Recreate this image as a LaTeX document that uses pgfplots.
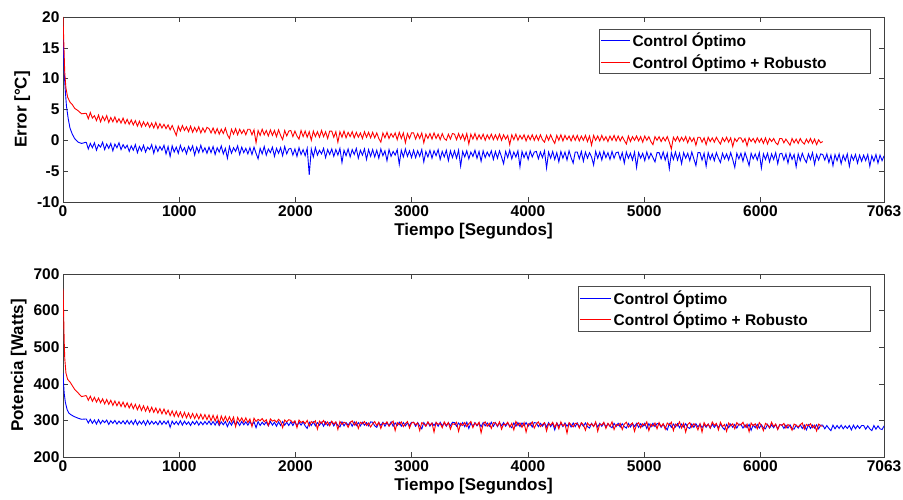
\documentclass[border=0pt]{standalone}
\usepackage{pgfplots}
\pgfplotsset{compat=1.18}
\usepackage{fontspec}
\setmainfont{Liberation Sans}

\begin{document}
\begin{tikzpicture}
\path[use as bounding box] (0,0) rectangle (903pt,-500pt);
\pgfplotsset{
  mystyle/.style={
    scale only axis, width=821pt, xmin=0, xmax=7063,
    xtick={0,1000,2000,3000,4000,5000,6000,7063},
    xticklabels={0,1000,2000,3000,4000,5000,6000,7063},
    tick label style={font=\fontsize{15.5}{17}\selectfont\bfseries},
    label style={font=\fontsize{17}{19}\selectfont\bfseries},
    xlabel={Tiempo [Segundos]},
    tick align=inside, major tick length=5pt,
    axis line style={black!75},
    every tick/.style={black!75, line width=0.5pt},
    legend style={font=\fontsize{15.5}{17}\selectfont\bfseries, draw=black!70, anchor=north east, inner sep=2pt, row sep=2pt},
    legend cell align=left,
    xlabel style={yshift=0pt},
  }
}

% ---------------- TOP -----------------
\begin{axis}[mystyle, at={(63pt,-17pt)}, anchor=north west, height=185pt,
  ymin=-10, ymax=20, ytick={-10,-5,0,5,10,15,20},
  yticklabels={-10,-5,0,5,10,15,20},
  ylabel={Error [°C]},
  legend style={at={(0.984,0.935)}},
  legend image code/.code={\draw[#1] (0pt,0pt) -- (29pt,0pt);}]
\addlegendimage{blue, line width=0.7pt}
\addlegendentry{Control Óptimo}
\addlegendimage{red, line width=0.7pt}
\addlegendentry{Control Óptimo + Robusto\hspace{40pt}\mbox{}}
\addplot[blue, line width=0.9pt, forget plot] table[row sep=\\, x expr=200+\coordindex*17.6, y=y] {y\\
-0.3\\ -1.4\\ -0.5\\ -1.2\\ -0.4\\ -1.6\\ -0.7\\ -1.1\\ -0.3\\ -1.5\\ -0.6\\ -1.3\\ -0.5\\ -1.7\\ -0.6\\ -1.2\\ -0.4\\ -1.5\\ -0.7\\ -1.3\\
-0.8\\ -1.8\\ -0.9\\ -1.6\\ -0.7\\ -2.0\\ -1.0\\ -1.7\\ -0.8\\ -1.9\\ -1.1\\ -1.5\\ -0.7\\ -2.1\\ -0.9\\ -1.8\\ -1.0\\ -1.6\\ -0.8\\ -2.2\\
-1.0\\ -2.6\\ -0.9\\ -1.9\\ -1.1\\ -2.1\\ -0.8\\ -1.8\\ -1.2\\ -2.2\\ -1.0\\ -1.7\\ -0.9\\ -2.4\\ -1.1\\ -2.0\\ -0.8\\ -1.9\\ -1.2\\ -2.1\\
-1.1\\ -2.0\\ -1.0\\ -2.3\\ -1.2\\ -1.9\\ -0.9\\ -2.2\\ -1.3\\ -2.9\\ -1.0\\ -2.1\\ -1.2\\ -1.8\\ -0.9\\ -2.3\\ -1.1\\ -2.0\\ -1.3\\ -2.2\\
-1.2\\ -2.3\\ -1.1\\ -2.1\\ -3.0\\ -1.3\\ -2.2\\ -1.0\\ -2.4\\ -1.4\\ -2.0\\ -1.1\\ -2.6\\ -1.3\\ -2.1\\ -1.2\\ -2.5\\ -1.0\\ -2.2\\ -1.4\\
-1.3\\ -2.4\\ -1.4\\ -2.6\\ -1.2\\ -2.3\\ -1.5\\ -2.5\\ -1.3\\ -5.6\\ -1.4\\ -2.7\\ -1.2\\ -2.4\\ -1.6\\ -2.2\\ -1.3\\ -2.8\\ -1.5\\ -2.3\\
-1.4\\ -2.6\\ -1.5\\ -2.4\\ -1.3\\ -3.6\\ -1.6\\ -2.5\\ -1.4\\ -2.7\\ -1.5\\ -2.3\\ -1.3\\ -2.9\\ -1.6\\ -2.4\\ -1.4\\ -3.1\\ -1.5\\ -2.6\\
-1.5\\ -2.7\\ -1.6\\ -2.9\\ -1.4\\ -2.5\\ -1.7\\ -3.3\\ -1.5\\ -2.6\\ -1.8\\ -2.4\\ -1.5\\ -3.9\\ -1.6\\ -2.7\\ -1.4\\ -2.6\\ -1.7\\ -2.8\\
-1.6\\ -2.8\\ -1.7\\ -2.6\\ -1.5\\ -3.5\\ -1.8\\ -2.7\\ -1.6\\ -2.9\\ -1.7\\ -2.5\\ -1.5\\ -3.1\\ -1.8\\ -2.7\\ -1.6\\ -3.3\\ -1.7\\ -2.8\\
-1.7\\ -2.9\\ -1.6\\ -4.2\\ -1.8\\ -2.7\\ -1.7\\ -3.0\\ -1.9\\ -2.6\\ -1.6\\ -2.9\\ -1.8\\ -3.4\\ -1.7\\ -2.8\\ -1.9\\ -2.6\\ -1.7\\ -3.1\\
-1.8\\ -2.9\\ -1.7\\ -2.7\\ -3.8\\ -1.8\\ -2.8\\ -1.6\\ -3.0\\ -1.9\\ -2.7\\ -1.7\\ -4.3\\ -1.8\\ -2.8\\ -1.9\\ -3.1\\ -1.7\\ -2.7\\ -1.9\\
-1.8\\ -3.0\\ -1.9\\ -2.8\\ -1.7\\ -4.5\\ -1.9\\ -2.9\\ -1.8\\ -3.1\\ -2.0\\ -3.5\\ -1.8\\ -2.9\\ -1.9\\ -3.2\\ -1.7\\ -2.8\\ -3.7\\ -1.9\\
-1.9\\ -3.0\\ -1.8\\ -3.4\\ -1.9\\ -2.9\\ -2.0\\ -2.7\\ -4.0\\ -1.8\\ -2.9\\ -1.9\\ -3.2\\ -1.8\\ -2.8\\ -2.0\\ -3.1\\ -1.8\\ -2.9\\ -2.0\\
-1.9\\ -3.1\\ -2.0\\ -3.7\\ -1.9\\ -2.9\\ -2.1\\ -3.2\\ -1.9\\ -4.4\\ -2.0\\ -2.9\\ -2.1\\ -3.3\\ -1.9\\ -3.0\\ -2.1\\ -2.8\\ -3.5\\ -2.0\\
-2.0\\ -3.0\\ -1.9\\ -3.2\\ -2.1\\ -4.6\\ -2.0\\ -3.1\\ -1.9\\ -3.2\\ -2.1\\ -3.8\\ -2.0\\ -2.9\\ -2.1\\ -3.3\\ -1.9\\ -3.0\\ -4.1\\ -2.0\\
-2.0\\ -3.2\\ -2.1\\ -4.2\\ -2.0\\ -3.1\\ -2.2\\ -3.3\\ -2.0\\ -2.9\\ -3.6\\ -2.1\\ -3.0\\ -2.2\\ -3.2\\ -2.0\\ -3.1\\ -4.4\\ -2.1\\ -3.0\\
-2.1\\ -3.4\\ -2.0\\ -3.0\\ -4.1\\ -2.1\\ -3.0\\ -2.2\\ -3.2\\ -2.0\\ -4.5\\ -2.2\\ -3.1\\ -2.1\\ -3.5\\ -2.2\\ -3.1\\ -2.0\\ -3.8\\ -2.2\\
-2.1\\ -3.2\\ -2.2\\ -3.7\\ -2.1\\ -3.1\\ -2.3\\ -4.3\\ -2.2\\ -3.3\\ -2.1\\ -3.0\\ -3.6\\ -2.2\\ -3.1\\ -2.0\\ -3.9\\ -2.3\\ -3.2\\ -2.2\\
-2.3\\ -3.2\\ -2.2\\ -3.6\\ -2.4\\ -4.1\\ -2.3\\ -3.3\\ -2.2\\ -3.8\\ -2.4\\ -3.3\\ -2.2\\ -4.2\\ -2.4\\ -3.2\\ -2.3\\ -3.7\\ -2.4\\ -3.4\\
-2.4\\ -3.3\\ -2.3\\ -4.2\\ -2.5\\ -3.4\\ -2.3\\ -3.7\\ -2.4\\ -3.3\\ -2.5\\
};
\addplot[blue, line width=0.9pt, forget plot] coordinates {
(0,17) (5,14) (10,11) (20,8) (30,5.5) (45,3.5) (60,2) (80,1) (100,0.3) (130,-0.3) (160,-0.5) (200,-0.3)};
\addplot[red, line width=0.9pt, forget plot] table[row sep=\\, x expr=200+\coordindex*17.6, y=y] {y\\
4.4\\ 3.5\\ 4.5\\ 3.6\\ 4.0\\ 3.2\\ 4.1\\ 3.0\\ 3.9\\ 3.2\\ 4.0\\ 2.9\\ 3.7\\ 3.0\\ 3.8\\ 2.9\\ 3.5\\ 2.8\\ 3.6\\ 2.7\\
3.4\\ 2.6\\ 3.3\\ 2.5\\ 3.2\\ 2.3\\ 3.1\\ 2.2\\ 3.0\\ 2.3\\ 2.9\\ 2.1\\ 2.8\\ 2.0\\ 2.9\\ 1.9\\ 2.7\\ 2.0\\ 2.6\\ 1.9\\
2.5\\ 1.7\\ 2.4\\ 1.6\\ 0.8\\ 2.3\\ 1.5\\ 2.4\\ 1.6\\ 2.2\\ 1.4\\ 2.3\\ 1.3\\ 2.1\\ 1.4\\ 2.2\\ 1.2\\ 2.0\\ 1.3\\ 2.1\\
1.9\\ 1.2\\ 2.0\\ 1.1\\ 1.9\\ 1.0\\ 1.8\\ 1.1\\ 2.0\\ 0.9\\ 0.3\\ 1.8\\ 1.0\\ 1.9\\ 0.9\\ 1.8\\ 1.1\\ 1.7\\ 0.9\\ 1.8\\
1.8\\ 0.9\\ 1.7\\ -0.4\\ 1.6\\ 0.8\\ 1.8\\ 0.9\\ 1.6\\ 0.7\\ 1.7\\ 0.8\\ 1.6\\ 0.6\\ 1.7\\ 0.8\\ 0.1\\ 1.6\\ 0.7\\ 1.5\\
1.6\\ 0.6\\ 1.5\\ 0.7\\ 0.2\\ 1.6\\ 0.6\\ 1.5\\ 0.5\\ 1.4\\ 0.0\\ 1.5\\ 0.6\\ 1.4\\ 0.5\\ 1.6\\ 0.6\\ 1.4\\ 0.3\\ 1.5\\
1.5\\ 0.5\\ 1.4\\ -0.3\\ 1.4\\ 0.5\\ 1.5\\ 0.4\\ 1.3\\ 0.6\\ 1.4\\ 0.4\\ 1.3\\ 0.5\\ 1.2\\ 0.3\\ 1.4\\ 0.5\\ 1.3\\ 0.4\\
1.3\\ 0.4\\ 1.2\\ 0.3\\ -0.3\\ 1.2\\ 0.4\\ 1.3\\ 0.3\\ 1.1\\ 0.5\\ 1.2\\ 0.1\\ 1.3\\ 0.3\\ 1.2\\ -0.4\\ 1.1\\ 0.3\\ 1.2\\
1.2\\ 0.2\\ 1.1\\ 0.3\\ 1.2\\ -0.4\\ 1.0\\ 0.3\\ 1.1\\ 0.2\\ 1.2\\ 0.3\\ 1.0\\ 0.1\\ 1.1\\ 0.3\\ 0.0\\ 1.0\\ 0.2\\ 1.1\\
1.0\\ 0.1\\ 1.1\\ 0.2\\ 1.0\\ 0.0\\ 1.1\\ -0.6\\ 1.0\\ 0.2\\ 1.1\\ 0.1\\ 0.9\\ 0.2\\ 1.0\\ 0.0\\ 0.9\\ 0.2\\ 1.0\\ 0.1\\
0.9\\ 0.1\\ 1.0\\ 0.0\\ 0.9\\ 0.2\\ 0.8\\ -0.7\\ 0.9\\ 0.1\\ 1.0\\ 0.0\\ 0.8\\ 0.2\\ 0.9\\ -0.1\\ 0.8\\ 0.1\\ 0.9\\ 0.0\\
0.8\\ 0.0\\ 0.9\\ 0.1\\ -0.3\\ 0.8\\ 0.0\\ 0.9\\ 0.1\\ -0.5\\ 0.8\\ 0.0\\ 0.9\\ -0.1\\ 0.8\\ 0.1\\ 0.7\\ -0.1\\ 0.8\\ 0.0\\
0.8\\ -0.1\\ 0.7\\ 0.0\\ 0.8\\ -0.2\\ 0.7\\ -0.8\\ 0.8\\ 0.0\\ 0.7\\ -0.1\\ 0.8\\ 0.0\\ 0.6\\ -0.2\\ 0.7\\ 0.0\\ 0.8\\ -0.1\\
0.7\\ -0.1\\ 0.6\\ 0.0\\ -0.6\\ 0.7\\ -0.2\\ 0.6\\ 0.0\\ 0.7\\ -0.1\\ 0.6\\ -0.3\\ 0.7\\ 0.0\\ 0.6\\ -0.2\\ -0.7\\ 0.6\\ 0.0\\
0.6\\ -0.2\\ 0.5\\ -0.1\\ 0.6\\ -0.3\\ -1.4\\ 0.5\\ -0.1\\ 0.6\\ -0.2\\ 0.5\\ -0.1\\ 0.6\\ -0.4\\ 0.5\\ -0.2\\ 0.4\\ -0.8\\ 0.5\\
0.5\\ -0.3\\ 0.4\\ -0.7\\ 0.5\\ -0.2\\ 0.4\\ -0.3\\ 0.5\\ -0.1\\ -0.6\\ 0.4\\ -0.2\\ 0.5\\ -0.3\\ 0.4\\ -1.0\\ 0.3\\ -0.2\\ 0.4\\
0.4\\ -0.3\\ 0.3\\ -0.9\\ 0.4\\ -0.2\\ 0.3\\ -0.4\\ 0.4\\ -0.3\\ 0.3\\ -0.5\\ 0.4\\ -0.6\\ 0.3\\ -0.2\\ 0.3\\ -0.4\\ -0.7\\ 0.3\\
0.3\\ -0.4\\ 0.2\\ -0.3\\ -0.8\\ 0.3\\ -0.4\\ 0.2\\ -0.5\\ 0.3\\ -0.3\\ -0.6\\ 0.2\\ -0.4\\ 0.3\\ -0.5\\ 0.2\\ -0.7\\ 0.1\\ -0.4\\
-0.2\\
};
\addplot[red, line width=0.9pt, forget plot] coordinates {
(0,20) (5,17) (10,14) (15,11) (25,8.5) (40,7) (60,6.2) (80,5.8) (100,5.2) (130,4.8) (160,4.3) (200,4.4)};
\end{axis}

% ---------------- BOTTOM -----------------
\begin{axis}[mystyle, at={(63pt,-274pt)}, anchor=north west, height=183pt,
  ymin=200, ymax=700, ytick={200,300,400,500,600,700},
  yticklabels={200,300,400,500,600,700},
  ylabel={Potencia [Watts]},
  legend style={at={(0.983,0.934)}},
  legend image code/.code={\draw[#1] (0pt,0pt) -- (31pt,0pt);}]
\addlegendimage{blue, line width=0.7pt}
\addlegendentry{Control Óptimo}
\addlegendimage{red, line width=0.7pt}
\addlegendentry{Control Óptimo + Robusto\hspace{58pt}\mbox{}}
\addplot[blue, line width=0.9pt, forget plot] table[row sep=\\, x expr=200+\coordindex*17.6, y=y] {y\\
304\\ 293\\ 303\\ 292\\ 301\\ 290\\ 302\\ 291\\ 300\\ 294\\ 301\\ 289\\ 299\\ 292\\ 300\\ 290\\ 298\\ 291\\ 299\\ 290\\
300\\ 290\\ 299\\ 289\\ 301\\ 288\\ 298\\ 290\\ 299\\ 287\\ 300\\ 289\\ 298\\ 290\\ 297\\ 288\\ 299\\ 289\\ 298\\ 290\\
299\\ 281\\ 298\\ 289\\ 297\\ 288\\ 299\\ 287\\ 298\\ 289\\ 296\\ 286\\ 297\\ 289\\ 298\\ 287\\ 296\\ 288\\ 297\\ 289\\
298\\ 288\\ 297\\ 287\\ 298\\ 286\\ 296\\ 288\\ 297\\ 283\\ 296\\ 287\\ 298\\ 288\\ 296\\ 286\\ 297\\ 288\\ 296\\ 287\\
297\\ 287\\ 296\\ 280\\ 297\\ 286\\ 295\\ 288\\ 296\\ 285\\ 297\\ 287\\ 295\\ 284\\ 296\\ 286\\ 297\\ 287\\ 295\\ 286\\
296\\ 286\\ 297\\ 285\\ 295\\ 287\\ 296\\ 285\\ 278\\ 295\\ 286\\ 296\\ 285\\ 294\\ 287\\ 295\\ 284\\ 296\\ 286\\ 294\\
296\\ 285\\ 295\\ 286\\ 282\\ 296\\ 285\\ 294\\ 287\\ 295\\ 284\\ 296\\ 286\\ 294\\ 285\\ 295\\ 287\\ 294\\ 285\\ 296\\
295\\ 285\\ 281\\ 294\\ 286\\ 295\\ 284\\ 294\\ 285\\ 296\\ 284\\ 293\\ 286\\ 295\\ 284\\ 294\\ 285\\ 293\\ 286\\ 295\\
295\\ 284\\ 294\\ 285\\ 277\\ 294\\ 285\\ 295\\ 284\\ 293\\ 286\\ 294\\ 284\\ 295\\ 285\\ 293\\ 284\\ 294\\ 285\\ 295\\
294\\ 284\\ 293\\ 285\\ 294\\ 283\\ 295\\ 278\\ 293\\ 284\\ 294\\ 285\\ 293\\ 283\\ 294\\ 285\\ 293\\ 284\\ 295\\ 284\\
294\\ 283\\ 293\\ 285\\ 294\\ 284\\ 293\\ 285\\ 280\\ 293\\ 284\\ 294\\ 283\\ 293\\ 285\\ 294\\ 284\\ 293\\ 282\\ 294\\
293\\ 283\\ 292\\ 284\\ 293\\ 282\\ 294\\ 283\\ 292\\ 274\\ 293\\ 284\\ 292\\ 283\\ 293\\ 284\\ 292\\ 282\\ 293\\ 283\\
293\\ 282\\ 292\\ 284\\ 293\\ 283\\ 279\\ 292\\ 284\\ 293\\ 282\\ 292\\ 284\\ 293\\ 282\\ 291\\ 284\\ 280\\ 292\\ 283\\
292\\ 282\\ 291\\ 283\\ 279\\ 292\\ 282\\ 291\\ 283\\ 292\\ 281\\ 291\\ 283\\ 292\\ 278\\ 291\\ 282\\ 292\\ 283\\ 291\\
291\\ 281\\ 290\\ 282\\ 274\\ 291\\ 281\\ 290\\ 282\\ 291\\ 280\\ 290\\ 282\\ 291\\ 281\\ 278\\ 290\\ 281\\ 291\\ 282\\
290\\ 280\\ 289\\ 281\\ 290\\ 279\\ 290\\ 281\\ 289\\ 280\\ 290\\ 281\\ 275\\ 289\\ 280\\ 290\\ 281\\ 289\\ 279\\ 290\\
289\\ 279\\ 288\\ 280\\ 289\\ 273\\ 288\\ 280\\ 289\\ 279\\ 288\\ 280\\ 277\\ 289\\ 279\\ 288\\ 280\\ 289\\ 276\\ 288\\
288\\ 278\\ 287\\ 279\\ 288\\ 278\\ 276\\ 287\\ 279\\ 288\\ 278\\ 287\\ 274\\ 288\\ 278\\ 287\\ 279\\ 288\\ 277\\ 287\\
287\\ 277\\ 286\\ 278\\ 272\\ 287\\ 277\\ 286\\ 278\\ 287\\ 277\\ 285\\ 278\\ 286\\ 274\\ 287\\ 277\\ 286\\ 278\\ 286\\
286\\ 276\\ 285\\ 277\\ 272\\ 286\\ 276\\ 285\\ 277\\ 275\\ 285\\
};
\addplot[blue, line width=0.9pt, forget plot] coordinates {
(0,430) (5,400) (10,375) (20,350) (35,330) (50,320) (70,315) (100,310) (130,306) (160,303) (200,304)};
\addplot[red, line width=0.9pt, forget plot] table[row sep=\\, x expr=200+\coordindex*17.6, y=y] {y\\
368\\ 355\\ 366\\ 352\\ 363\\ 350\\ 361\\ 348\\ 359\\ 345\\ 357\\ 344\\ 355\\ 341\\ 353\\ 340\\ 351\\ 338\\ 350\\ 336\\
348\\ 334\\ 346\\ 332\\ 344\\ 329\\ 342\\ 327\\ 340\\ 325\\ 338\\ 323\\ 336\\ 322\\ 334\\ 320\\ 332\\ 318\\ 331\\ 317\\
328\\ 313\\ 326\\ 311\\ 325\\ 310\\ 323\\ 308\\ 322\\ 307\\ 320\\ 306\\ 319\\ 305\\ 318\\ 304\\ 317\\ 303\\ 316\\ 302\\
315\\ 299\\ 314\\ 298\\ 313\\ 290\\ 312\\ 298\\ 311\\ 297\\ 310\\ 296\\ 309\\ 283\\ 308\\ 297\\ 307\\ 295\\ 307\\ 294\\
304\\ 283\\ 306\\ 297\\ 303\\ 299\\ 305\\ 296\\ 302\\ 286\\ 304\\ 298\\ 301\\ 295\\ 303\\ 297\\ 280\\ 301\\ 296\\ 302\\
300\\ 293\\ 299\\ 280\\ 301\\ 294\\ 298\\ 291\\ 300\\ 284\\ 297\\ 293\\ 299\\ 276\\ 298\\ 292\\ 300\\ 289\\ 296\\ 285\\
298\\ 290\\ 296\\ 275\\ 297\\ 289\\ 295\\ 292\\ 281\\ 294\\ 299\\ 287\\ 296\\ 278\\ 295\\ 291\\ 297\\ 286\\ 293\\ 282\\
291\\ 297\\ 286\\ 295\\ 278\\ 293\\ 290\\ 296\\ 284\\ 292\\ 298\\ 272\\ 294\\ 288\\ 296\\ 283\\ 291\\ 297\\ 279\\ 293\\
295\\ 288\\ 293\\ 272\\ 294\\ 290\\ 284\\ 296\\ 287\\ 293\\ 268\\ 295\\ 289\\ 292\\ 280\\ 296\\ 286\\ 294\\ 276\\ 291\\
289\\ 295\\ 270\\ 292\\ 286\\ 294\\ 283\\ 291\\ 297\\ 280\\ 293\\ 287\\ 295\\ 266\\ 290\\ 296\\ 284\\ 292\\ 278\\ 294\\
293\\ 285\\ 296\\ 276\\ 290\\ 288\\ 295\\ 282\\ 292\\ 274\\ 297\\ 286\\ 293\\ 281\\ 294\\ 268\\ 291\\ 287\\ 296\\ 279\\
290\\ 296\\ 283\\ 289\\ 294\\ 271\\ 291\\ 287\\ 295\\ 281\\ 293\\ 277\\ 296\\ 285\\ 290\\ 265\\ 294\\ 288\\ 282\\ 292\\
292\\ 279\\ 294\\ 288\\ 273\\ 293\\ 286\\ 291\\ 283\\ 296\\ 270\\ 290\\ 287\\ 295\\ 278\\ 292\\ 284\\ 296\\ 275\\ 289\\
286\\ 292\\ 275\\ 290\\ 295\\ 282\\ 288\\ 293\\ 270\\ 289\\ 294\\ 280\\ 291\\ 286\\ 296\\ 272\\ 290\\ 284\\ 293\\ 277\\
294\\ 283\\ 291\\ 276\\ 293\\ 287\\ 295\\ 272\\ 290\\ 285\\ 296\\ 279\\ 292\\ 268\\ 289\\ 294\\ 281\\ 291\\ 286\\ 274\\
291\\ 268\\ 294\\ 284\\ 290\\ 279\\ 296\\ 286\\ 292\\ 274\\ 295\\ 283\\ 289\\ 270\\ 293\\ 285\\ 291\\ 277\\ 294\\ 287\\
288\\ 295\\ 281\\ 290\\ 269\\ 293\\ 285\\ 291\\ 277\\ 294\\ 286\\ 272\\ 292\\ 288\\ 280\\ 295\\ 283\\ 290\\ 275\\ 289\\
286\\ 292\\ 279\\ 289\\ 284\\ 273\\ 290\\ 287\\ 282\\ 288\\ 293\\ 276\\ 289\\ 285\\ 291\\ 280\\ 287\\ 271\\ 290\\ 285\\
284\\
};
\addplot[red, line width=0.9pt, forget plot] coordinates {
(0,660) (5,600) (10,520) (15,470) (25,430) (40,412) (60,405) (80,395) (100,385) (130,375) (160,365) (200,368)};
\end{axis}
\end{tikzpicture}
\end{document}
